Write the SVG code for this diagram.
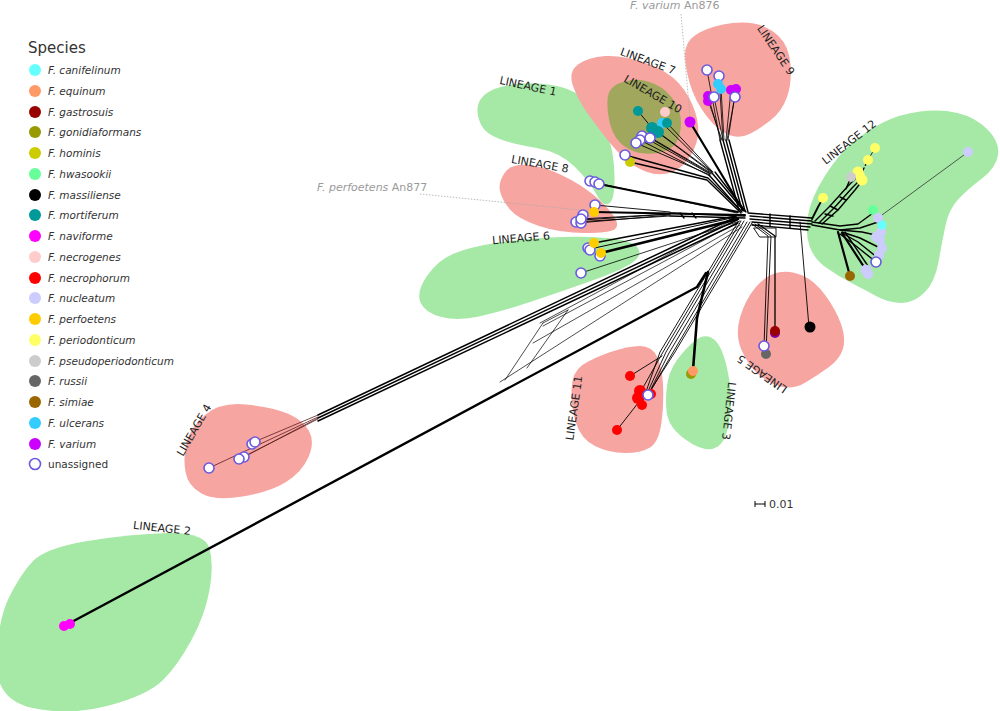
<svg xmlns="http://www.w3.org/2000/svg" width="1000" height="711" viewBox="0 0 1000 711">
<style>
text{font-family:"DejaVu Sans","Liberation Sans",sans-serif;fill:#333}
.lg{font-size:10.5px;font-style:italic}
.lb{font-size:11px;fill:#222}
.pk{fill:#f6a5a1}
.gr{fill:#a6e9a6}
.ol{fill:#a1a75c}
.ua{fill:#fff;stroke:#6a5ae0;stroke-width:1.6}
.can{fill:#66ffff}.equ{fill:#ff9966}.gas{fill:#990000}.gon{fill:#999900}.hom{fill:#cccc00}.hwa{fill:#66ff99}
.mas{fill:#000}.mor{fill:#009999}.nav{fill:#ff00ff}.neg{fill:#ffcccc}.nep{fill:#ff0000}.nuc{fill:#ccccff}
.per{fill:#ffcc00}.pdo{fill:#ffff66}.pse{fill:#cccccc}.rus{fill:#666666}.sim{fill:#996600}.ulc{fill:#33ccff}.var{fill:#cc00ff}
.ann{font-size:11px;fill:#9a9a9a}
</style>
<rect width="1000" height="711" fill="#fff"/>

<g id="hulls">
<path id="lin2" class="gr" d="M32.5,561.5 Q45,548 87.5,541 Q130,534 167.5,533 Q205,532 209.5,548.5 Q214,565 209.5,590 Q205,615 191.5,640 Q178,665 163,680 Q148,695 109,705.5 Q70,716 32.5,708 Q-5,700 -3.5,660 Q-2,620 9,597.5 Q20,575 32.5,561.5 Z"/>
<path id="lin4" class="pk" d="M205,415 Q220,402 246,404.5 Q272,407 287.5,413.5 Q303,420 309,431 Q315,442 308.5,457 Q302,472 286,482 Q270,492 242.5,496.5 Q215,501 201.5,493.5 Q188,486 185.5,472 Q183,458 186.5,443 Q190,428 205,415 Z"/>
<path id="lin6" class="gr" d="M420.5,302.5 Q416,292 427,276 Q438,260 454,253.5 Q470,247 495,243 Q520,239 550,237.5 Q580,236 606,238 Q632,240 637.5,247.5 Q643,255 632.5,262.5 Q622,270 591,281 Q560,292 530,302 Q500,312 479,316.5 Q458,321 441.5,317 Q425,313 420.5,302.5 Z"/>
<path id="lin1" class="gr" d="M477.5,108.5 Q478,100 485.5,94 Q493,88 509,85 Q525,82 544,84 Q563,86 574,92 Q585,98 593.5,110 Q602,122 608,137 Q614,152 614.5,176 Q615,200 609,203.5 Q603,207 596.5,194.5 Q590,182 575,167 Q560,152 536.5,148 Q513,144 499.5,139 Q486,134 481.5,125.5 Q477,117 477.5,108.5 Z"/>
<path id="lin8" class="pk" d="M500,191 Q498,182 505,172.5 Q512,163 528.5,165 Q545,167 562.5,175.5 Q580,184 593,194.5 Q606,205 613,215 Q620,225 615,229 Q610,233 585,233 Q560,233 539,226 Q518,219 510,209.5 Q502,200 500,191 Z"/>
<path id="lin7" class="pk" d="M573,86 Q568,72 578,64.5 Q588,57 605.5,56 Q623,55 645.5,63 Q668,71 679,83.5 Q690,96 695,111.5 Q700,127 697.5,138.5 Q695,150 687.5,160 Q680,170 669,173 Q658,176 647,172 Q636,168 627,160.5 Q618,153 608,140.5 Q598,128 588,114 Q578,100 573,86 Z"/>
<path id="lin10" class="ol" d="M608.5,116.5 Q606,100 609,92.5 Q612,85 624.5,81.5 Q637,78 649.5,82 Q662,86 670.5,96 Q679,106 680.5,117 Q682,128 678.5,138 Q675,148 664,151.5 Q653,155 640.5,153 Q628,151 619.5,142 Q611,133 608.5,116.5 Z"/>
<path id="lin9" class="pk" d="M685,54.5 Q685,42 695.5,35 Q706,28 723,24.5 Q740,21 754,23.5 Q768,26 778.5,36 Q789,46 790.5,64.5 Q792,83 787,97 Q782,111 771.5,119.5 Q761,128 750.5,133.5 Q740,139 729,135 Q718,131 706.5,116 Q695,101 690,84 Q685,67 685,54.5 Z"/>
<path id="lin12" class="gr" d="M809.5,246 Q805,233 808,215.5 Q811,198 824.5,176.5 Q838,155 852,143 Q866,131 883,122.5 Q900,114 920,111.5 Q940,109 957.5,113 Q975,117 987.5,129.5 Q1000,142 998,155 Q996,168 982,178.5 Q968,189 958.5,199 Q949,209 945.5,225.5 Q942,242 938.5,262 Q935,282 924.5,292.5 Q914,303 901.5,303 Q889,303 877,296.5 Q865,290 851.5,283 Q838,276 826,267.5 Q814,259 809.5,246 Z"/>
<path id="lin5" class="pk" d="M741.5,350 Q735,335 740,317.5 Q745,300 755.5,287.5 Q766,275 778,272.5 Q790,270 802.5,275.5 Q815,281 825.5,295.5 Q836,310 841,324 Q846,338 843,348.5 Q840,359 829,367 Q818,375 805.5,382.5 Q793,390 780.5,386.5 Q768,383 758,374 Q748,365 741.5,350 Z"/>
<path id="lin11" class="pk" d="M571.5,389.5 Q572,372 582.5,365 Q593,358 610.5,352 Q628,346 640,346 Q652,346 657,356.5 Q662,367 663,384.5 Q664,402 661.5,422 Q659,442 650,447.5 Q641,453 625,453 Q609,453 595,446 Q581,439 576,423 Q571,407 571.5,389.5 Z"/>
<path id="lin3" class="gr" d="M668,418 Q665,408 666.5,390 Q668,372 677,360 Q686,348 694.5,341 Q703,334 711,337.5 Q719,341 724,357 Q729,373 730.5,390.5 Q732,408 728.5,425 Q725,442 718,446.5 Q711,451 701.5,448 Q692,445 681.5,436.5 Q671,428 668,418 Z"/>
</g>

<g id="labels">
<text class="lb" text-anchor="middle" dy=".35em" transform="translate(528,86) rotate(12)">LINEAGE 1</text>
<text class="lb" text-anchor="middle" dy=".35em" transform="translate(648,61) rotate(20)">LINEAGE 7</text>
<text class="lb" text-anchor="middle" dy=".35em" transform="translate(653,94) rotate(30)">LINEAGE 10</text>
<text class="lb" text-anchor="middle" dy=".35em" transform="translate(776,50) rotate(56)">LINEAGE 9</text>
<text class="lb" text-anchor="middle" dy=".35em" transform="translate(849,142) rotate(-38)">LINEAGE 12</text>
<text class="lb" text-anchor="middle" dy=".35em" transform="translate(540,164) rotate(10)">LINEAGE 8</text>
<text class="lb" text-anchor="middle" dy=".35em" transform="translate(521,238) rotate(-5)">LINEAGE 6</text>
<text class="lb" text-anchor="middle" dy=".35em" transform="translate(194,430) rotate(-60)">LINEAGE 4</text>
<text class="lb" text-anchor="middle" dy=".35em" transform="translate(162,528) rotate(6)">LINEAGE 2</text>
<text class="lb" text-anchor="middle" dy=".35em" transform="translate(574,408) rotate(-82)">LINEAGE 11</text>
<text class="lb" text-anchor="middle" dy=".35em" transform="translate(729,411) rotate(96)">LINEAGE 3</text>
<text class="lb" text-anchor="middle" dy=".35em" transform="translate(762,374) rotate(-145)">LINEAGE 5</text>
</g>

<g id="annotations">
<text class="ann" x="630" y="9"><tspan font-style="italic">F. varium</tspan> An876</text>
<line x1="681" y1="14" x2="690" y2="117" stroke="#aaa" stroke-width="0.8" stroke-dasharray="1.5,1.5"/>
<text class="ann" x="317" y="191"><tspan font-style="italic">F. perfoetens</tspan> An877</text>
<line x1="420" y1="194" x2="590" y2="211" stroke="#aaa" stroke-width="0.8" stroke-dasharray="1.5,1.5"/>
</g>

<g id="connectors" fill="none" stroke="#000" stroke-linecap="round" stroke-linejoin="round">
<!-- lineage 2 -->
<path d="M68,624 L697,287 L706,273" stroke-width="2.4"/>
<!-- lineage 4 -->
<g stroke="#5a2020" stroke-width="0.8">
<path d="M209,468 L318,417"/><path d="M241,458 L318,419"/><path d="M254,442 L318,415"/><path d="M244,457 L318,418"/>
</g>
<g stroke-width="1.5">
<path d="M318,415 L736,217"/><path d="M318,418 L737,220"/><path d="M318,421 L738,223"/>
</g>
<g stroke-width="0.7">
<path d="M540,323 L736,218"/><path d="M543,326 L738,222"/><path d="M533,343 L740,225"/>
<path d="M505,380 L543,323"/><path d="M527,368 L568,310"/><path d="M543,323 L568,310"/>
<path d="M500,382 L742,227"/>
</g>
<!-- lineage 11 / 3 bundle -->
<g stroke-width="0.9">
<path d="M741,221 L663,352 L640,393"/><path d="M744,221 L666,352 L645,398"/>
<path d="M747,222 L669,353 L648,395"/><path d="M750,222 L672,354 L650,392"/>
<path d="M738,222 L660,352 L642,403"/><path d="M752,223 L675,352 L652,388"/>
<path d="M630,376 L662,356"/><path d="M617,430 L642,398"/>
</g>
<path d="M708,272 L697,318 L693,370" stroke-width="2.6"/>
<!-- lineage 5 -->
<g stroke-width="0.9">
<path d="M752,224 L768,236 L764,346"/><path d="M755,224 L771,236 L766,352"/>
<path d="M758,224 L775,236 L775,330" stroke-width="1.3"/>
<path d="M754,228 L776,228 L776,237 L760,237 Z"/>
<path d="M800,222 L809,327"/>
</g>
<!-- lineage 12 -->
<g stroke-width="1.4">
<path d="M748,213 L812,218"/><path d="M750,216 L812,221"/><path d="M750,219 L812,224"/><path d="M752,222 L810,227"/><path d="M752,225 L808,230"/>
<path d="M770,214 L770,226 M790,216 L790,228"/>
<path d="M812,219 L818,207 L823,198" stroke-width="1.8"/>
<path d="M815,221 L830,206 L848,186 L858,176"/><path d="M819,223 L834,208 L852,188 L861,179"/><path d="M822,224 L838,210 L855,190 L862,181"/>
<path d="M830,206 L838,210 M840,197 L846,200 M825,214 L833,216"/>
<path d="M851,177 L846,189"/>
<path d="M860,176 L868,160" stroke-dasharray="3,3"/>
<path d="M868,160 L875,148" stroke-width="0.8"/>
<path d="M812,222 L840,226 L858,224 L873,213"/>
<path d="M812,225 L840,230 L860,228 L878,222"/>
<path d="M840,230 L862,232 L880,236"/>
<path d="M842,232 L860,238 L880,248"/>
<path d="M842,233 L858,242 L878,258"/>
<path d="M840,234 L856,246 L876,262"/>
<path d="M838,232 L850,276" stroke-width="2.2"/>
<path d="M842,233 L866,270" stroke-width="2.2"/>
<path d="M845,232 L868,266"/>
</g>
<path d="M882,215 L968,152" stroke="#333" stroke-width="0.8"/>
<!-- lineage 9 -->
<g stroke-width="0.8">
<path d="M707,70 L720,140"/><path d="M719,76 L723,140"/><path d="M721,88 L724,140"/><path d="M708,96 L721,140"/>
<path d="M708,100 L722,140"/><path d="M731,90 L726,140"/><path d="M736,88 L728,140"/><path d="M714,97 L723,140"/><path d="M735,96 L727,140"/>
</g>
<g stroke-width="1.4">
<path d="M720,140 L739,210"/><path d="M723,140 L742,210"/><path d="M726,140 L745,211"/><path d="M729,140 L748,212"/>
</g>
<!-- lineage 7 / 10 -->
<path d="M690,122 L743,210" stroke-width="2.2"/>
<g stroke-width="0.9">
<path d="M642,136 L710,174"/><path d="M636,143 L710,175"/><path d="M650,138 L711,174"/><path d="M652,128 L712,173"/>
<path d="M658,132 L712,172"/><path d="M667,123 L713,172"/><path d="M662,123 L712,172"/><path d="M638,111 L652,128"/>
<path d="M640,140 L710,176"/><path d="M646,135 L711,173"/>
</g>
<g stroke-width="1.4">
<path d="M709,175 L741,211"/><path d="M712,173 L744,211"/><path d="M715,172 L746,212"/>
</g>
<path d="M625,155 L708,178 L742,212" stroke-width="1.3"/>
<path d="M630,162 L707,180 L741,213" stroke-width="1.3"/>
<!-- lineage 1 -->
<path d="M599,184 L738,212" stroke-width="1.9"/>
<path d="M592,182 L737,213" stroke-width="0.8"/>
<!-- lineage 8 -->
<g stroke-width="0.9">
<path d="M595,205 L670,212"/><path d="M583,220 L670,214"/><path d="M578,223 L670,215"/><path d="M580,219 L670,214"/><path d="M576,222 L670,216"/>
</g>
<g stroke-width="1.4">
<path d="M594,212 L745,215" stroke-width="2"/><path d="M670,213 L745,216"/><path d="M670,216 L745,218"/>
<path d="M680,213 L684,218 M692,213 L696,218"/>
</g>
<!-- lineage 6 -->
<path d="M601,253 L738,219" stroke-width="2.6"/>
<path d="M594,243 L736,216" stroke-width="1.5"/>
<path d="M590,249 L736,217" stroke-width="1"/>
<path d="M581,273 L740,221" stroke-width="0.8"/>
</g>

<g id="nodes">
<g id="n-lin2"><circle class="nav" cx="64" cy="626" r="5"/><circle class="nav" cx="70" cy="624" r="5"/></g>
<g id="n-lin4">
<circle class="ua" cx="209" cy="468" r="5"/><circle class="ua" cx="244" cy="457" r="5"/><circle class="ua" cx="239" cy="459" r="5"/>
<circle class="ua" cx="252" cy="444" r="5"/><circle class="ua" cx="255" cy="442" r="5"/>
</g>
<g id="n-lin6">
<circle class="ua" cx="588" cy="248" r="5"/><circle class="ua" cx="590" cy="250" r="5"/><circle class="per" cx="594" cy="243" r="5"/>
<circle class="ua" cx="600" cy="256" r="5"/><circle class="per" cx="601" cy="253" r="5"/><circle class="ua" cx="581" cy="273" r="5"/>
</g>
<g id="n-lin8">
<circle class="ua" cx="590" cy="181" r="5"/><circle class="ua" cx="595" cy="182" r="5"/><circle class="ua" cx="599" cy="184" r="5"/>
<circle class="ua" cx="595" cy="205" r="5"/><circle class="per" cx="594" cy="212" r="5"/>
<circle class="ua" cx="583" cy="215" r="5"/><circle class="ua" cx="576" cy="222" r="5"/><circle class="ua" cx="581" cy="223" r="5"/><circle class="ua" cx="581" cy="219" r="5"/>
</g>
<g id="n-lin7-10">
<circle class="mor" cx="638" cy="111" r="5"/><circle class="neg" cx="665" cy="112" r="5"/><circle class="ulc" cx="662" cy="123" r="5"/>
<circle class="mor" cx="667" cy="123" r="5"/><circle class="mor" cx="652" cy="128" r="6"/><circle class="mor" cx="658" cy="132" r="6"/>
<circle class="ua" cx="642" cy="136" r="5"/><circle class="ua" cx="640" cy="140" r="5"/><circle class="ua" cx="636" cy="143" r="5"/><circle class="ua" cx="650" cy="138" r="5"/>
<circle class="hom" cx="630" cy="162" r="5"/><circle class="ua" cx="625" cy="155" r="5"/>
<circle class="var" cx="690" cy="122" r="5.5"/>
</g>
<g id="n-lin9">
<circle class="ua" cx="707" cy="70" r="5"/><circle class="ua" cx="719" cy="76" r="5"/>
<circle class="var" cx="708" cy="96" r="5"/><circle class="var" cx="708" cy="101" r="5"/>
<circle class="var" cx="731" cy="90" r="5"/><circle class="var" cx="736" cy="89" r="5"/>
<circle class="ulc" cx="718" cy="84" r="5"/><circle class="ulc" cx="721" cy="89" r="5"/>
<circle class="ua" cx="714" cy="97" r="5"/><circle class="ua" cx="735" cy="97" r="5"/>
</g>
<g id="n-lin12">
<circle class="nuc" cx="968" cy="152" r="5"/>
<circle class="pdo" cx="875" cy="148" r="5"/><circle class="pdo" cx="868" cy="160" r="5"/>
<circle class="pdo" cx="858" cy="172" r="5.5"/><circle class="pdo" cx="862" cy="180" r="5.5"/><circle class="pdo" cx="860" cy="176" r="5"/>
<circle class="pse" cx="851" cy="177" r="5"/><circle class="pdo" cx="823" cy="198" r="5"/>
<circle class="hwa" cx="873" cy="210" r="5"/>
<circle class="nuc" cx="878" cy="218" r="5"/><circle class="nuc" cx="881" cy="232" r="5"/><circle class="nuc" cx="880" cy="240" r="5"/>
<circle class="nuc" cx="882" cy="248" r="5"/><circle class="nuc" cx="879" cy="255" r="5"/><circle class="nuc" cx="876" cy="237" r="5"/>
<circle class="can" cx="882" cy="225" r="4.5"/>
<circle class="ua" cx="876" cy="262" r="5"/>
<circle class="nuc" cx="866" cy="270" r="5.5"/><circle class="nuc" cx="868" cy="274" r="5"/>
<circle class="sim" cx="850" cy="276" r="5"/>
</g>
<g id="n-lin5">
<circle cx="775" cy="333" r="5" fill="#8000a0"/><circle class="gas" cx="775" cy="331" r="5"/>
<circle class="rus" cx="766" cy="354" r="5"/><circle class="ua" cx="764" cy="346" r="5"/>
<circle class="mas" cx="810" cy="327" r="5.5"/>
</g>
<g id="n-lin3"><circle class="gon" cx="691" cy="374" r="5"/><circle class="equ" cx="693" cy="371" r="5"/></g>
<g id="n-lin11">
<circle class="nep" cx="630" cy="376" r="5"/><circle class="nep" cx="640" cy="391" r="6"/><circle class="nep" cx="638" cy="398" r="6"/>
<circle class="nep" cx="642" cy="405" r="5"/><circle class="nep" cx="651" cy="394" r="5"/>
<circle class="ua" cx="648" cy="395" r="5"/><circle class="nep" cx="617" cy="430" r="5"/>
</g>
</g>

<g id="scale">
<path d="M755,504 L765,504 M755,501 L755,507 M765,501 L765,507" stroke="#000" stroke-width="1" fill="none"/>
<text x="769" y="508" font-size="11" fill="#222">0.01</text>
</g>

<g id="legend">
<text x="28" y="53" font-size="15" fill="#333">Species</text>
<circle class="can" cx="35" cy="70" r="6"/><text class="lg" x="48" y="74">F. canifelinum</text>
<circle class="equ" cx="35" cy="91" r="6"/><text class="lg" x="48" y="95">F. equinum</text>
<circle class="gas" cx="35" cy="112" r="6"/><text class="lg" x="48" y="116">F. gastrosuis</text>
<circle class="gon" cx="35" cy="132" r="6"/><text class="lg" x="48" y="136">F. gonidiaformans</text>
<circle class="hom" cx="35" cy="153" r="6"/><text class="lg" x="48" y="157">F. hominis</text>
<circle class="hwa" cx="35" cy="174" r="6"/><text class="lg" x="48" y="178">F. hwasookii</text>
<circle class="mas" cx="35" cy="195" r="6"/><text class="lg" x="48" y="199">F. massiliense</text>
<circle class="mor" cx="35" cy="215" r="6"/><text class="lg" x="48" y="219">F. mortiferum</text>
<circle class="nav" cx="35" cy="236" r="6"/><text class="lg" x="48" y="240">F. naviforme</text>
<circle class="neg" cx="35" cy="257" r="6"/><text class="lg" x="48" y="261">F. necrogenes</text>
<circle class="nep" cx="35" cy="278" r="6"/><text class="lg" x="48" y="282">F. necrophorum</text>
<circle class="nuc" cx="35" cy="298" r="6"/><text class="lg" x="48" y="302">F. nucleatum</text>
<circle class="per" cx="35" cy="319" r="6"/><text class="lg" x="48" y="323">F. perfoetens</text>
<circle class="pdo" cx="35" cy="340" r="6"/><text class="lg" x="48" y="344">F. periodonticum</text>
<circle class="pse" cx="35" cy="361" r="6"/><text class="lg" x="48" y="365">F. pseudoperiodonticum</text>
<circle class="rus" cx="35" cy="381" r="6"/><text class="lg" x="48" y="385">F. russii</text>
<circle class="sim" cx="35" cy="402" r="6"/><text class="lg" x="48" y="406">F. simiae</text>
<circle class="ulc" cx="35" cy="423" r="6"/><text class="lg" x="48" y="427">F. ulcerans</text>
<circle class="var" cx="35" cy="444" r="6"/><text class="lg" x="48" y="448">F. varium</text>
<circle class="ua" cx="35" cy="464" r="5.5"/><text x="48" y="468" font-size="10.5">unassigned</text>
</g>
</svg>
